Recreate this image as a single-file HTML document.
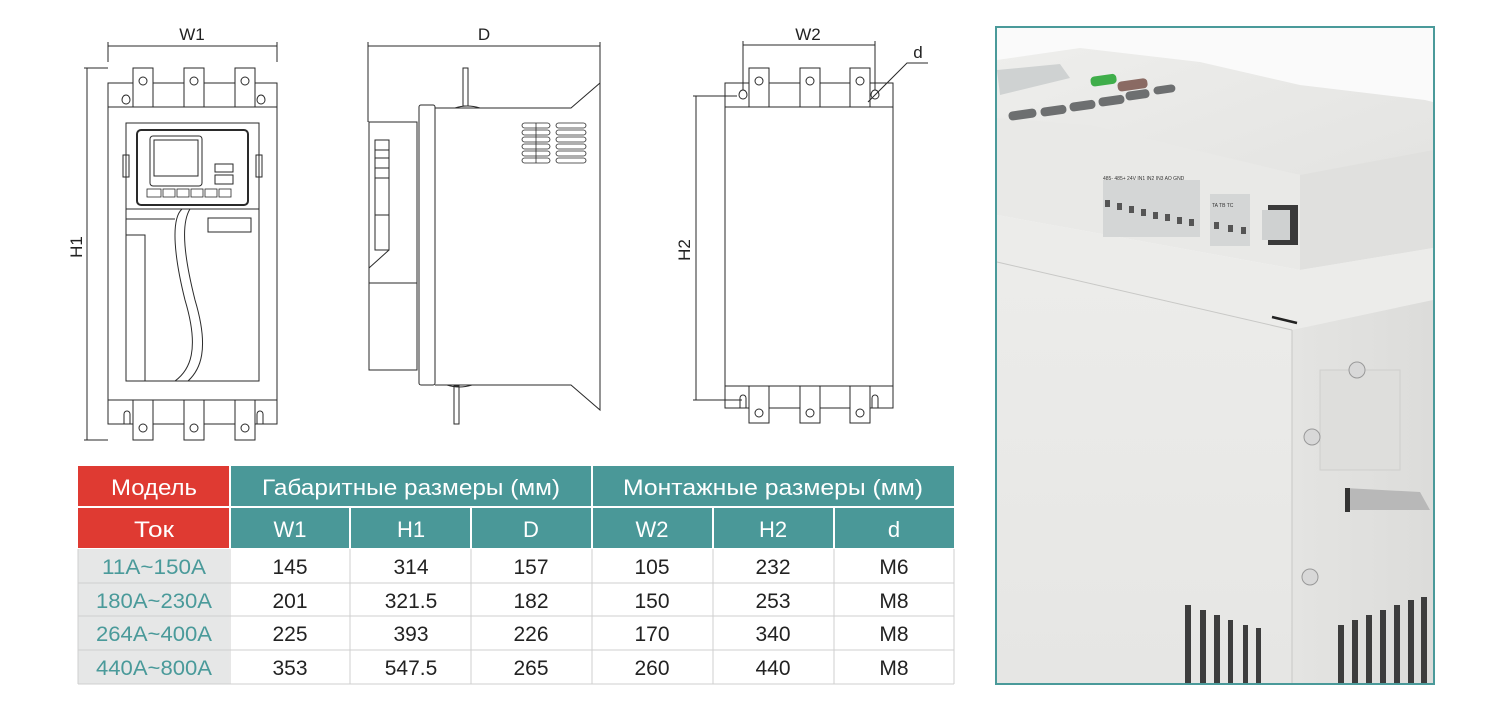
<!DOCTYPE html>
<html><head><meta charset="utf-8"><style>
html,body{margin:0;padding:0;background:#fff;}
svg{display:block}
</style></head><body>
<svg width="1504" height="708" viewBox="0 0 1504 708" xmlns="http://www.w3.org/2000/svg" font-family="Liberation Sans, sans-serif">
<defs>
<linearGradient id="top" x1="0" y1="0" x2="1" y2="1"><stop offset="0" stop-color="#eeeeec"/><stop offset="1" stop-color="#e2e2e0"/></linearGradient>
<linearGradient id="front" x1="0" y1="0" x2="0" y2="1"><stop offset="0" stop-color="#ececea"/><stop offset="1" stop-color="#e6e6e4"/></linearGradient>
<linearGradient id="side" x1="0" y1="0" x2="1" y2="0"><stop offset="0" stop-color="#e4e4e2"/><stop offset="1" stop-color="#dcdcda"/></linearGradient>
</defs>
<g fill="none" stroke="#2a2a2a" stroke-width="1">
<!-- FRONT VIEW -->
<line x1="108" y1="46" x2="277" y2="46"/><line x1="108" y1="42" x2="108" y2="62"/><line x1="277" y1="42" x2="277" y2="62"/>
<line x1="87" y1="68" x2="87" y2="440"/><line x1="84" y1="68" x2="108" y2="68"/><line x1="84" y1="440" x2="108" y2="440"/>
<rect x="108" y="83" width="169" height="24"/>
<rect x="108" y="107" width="169" height="293"/>
<rect x="108" y="400" width="169" height="24"/>
<g fill="#fff">
<rect x="133" y="68" width="20" height="39"/><rect x="184" y="68" width="20" height="39"/><rect x="235" y="68" width="20" height="39"/>
<rect x="133" y="400" width="20" height="40"/><rect x="184" y="400" width="20" height="40"/><rect x="235" y="400" width="20" height="40"/>
</g>
<circle cx="143" cy="81" r="4"/><circle cx="194" cy="81" r="4"/><circle cx="245" cy="81" r="4"/>
<circle cx="143" cy="428" r="4"/><circle cx="194" cy="428" r="4"/><circle cx="245" cy="428" r="4"/>
<path d="M122 100 a4 5 0 1 1 8 0 a4 4 0 0 1 -8 0z"/><path d="M257 100 a4 5 0 1 1 8 0 a4 4 0 0 1 -8 0z"/>
<path d="M124 424 v-10 a3 3 0 0 1 6 0 v10"/><path d="M257 424 v-10 a3 3 0 0 1 6 0 v10"/>
<rect x="126" y="123" width="133" height="258"/>
<rect x="137" y="130" width="111" height="75" rx="4" stroke-width="2"/>
<rect x="150" y="136" width="52" height="50" rx="3"/><rect x="154" y="140" width="44" height="36"/>
<rect x="123" y="155" width="6" height="22"/><rect x="256" y="155" width="6" height="22"/>
<rect x="215" y="164" width="18" height="8"/><rect x="215" y="175" width="18" height="9"/>
<g stroke-width="0.8"><rect x="147" y="189" width="14" height="8"/><rect x="163" y="189" width="12" height="8"/><rect x="177" y="189" width="12" height="8"/><rect x="191" y="189" width="12" height="8"/><rect x="205" y="189" width="12" height="8"/><rect x="219" y="189" width="12" height="8"/></g>
<line x1="126" y1="209" x2="259" y2="209"/>
<path d="M126 219 H175 M126 235 H145 V381 M182 209 C170 220 175 260 185 300 C200 350 190 370 175 381 M190 209 C180 225 185 260 195 300 C210 350 200 370 188 381"/>
<rect x="208" y="218" width="43" height="14"/>
<!-- SIDE VIEW -->
<line x1="368" y1="46" x2="600" y2="46"/><line x1="368" y1="42" x2="368" y2="122"/><line x1="600" y1="42" x2="600" y2="108"/>
<rect x="369" y="122" width="48" height="248"/>
<line x1="369" y1="283" x2="417" y2="283"/>
<rect x="375" y="140" width="14" height="110"/><path d="M375 150h14M375 158h14M375 168h14M375 178h14M375 215h14"/>
<path d="M369 268 L389 250"/>
<rect x="419" y="105" width="16" height="280" rx="2"/>
<path d="M435 108 H571 L600 83 V410 L571 385 H435"/>
<rect x="463" y="68" width="5" height="38"/><rect x="454" y="386" width="5" height="38"/>
<path d="M455 108 q12 -4 25 0 M447 385 q12 4 25 0"/>
<g stroke-width="0.8">
<rect x="522" y="123" width="28" height="5" rx="2.5"/><rect x="522" y="130" width="28" height="5" rx="2.5"/><rect x="522" y="137" width="28" height="5" rx="2.5"/><rect x="522" y="144" width="28" height="5" rx="2.5"/><rect x="522" y="151" width="28" height="5" rx="2.5"/><rect x="522" y="158" width="28" height="5" rx="2.5"/>
<rect x="556" y="123" width="30" height="5" rx="2.5"/><rect x="556" y="130" width="30" height="5" rx="2.5"/><rect x="556" y="137" width="30" height="5" rx="2.5"/><rect x="556" y="144" width="30" height="5" rx="2.5"/><rect x="556" y="151" width="30" height="5" rx="2.5"/><rect x="556" y="158" width="30" height="5" rx="2.5"/>
<line x1="536" y1="123" x2="536" y2="163"/></g>
<!-- MOUNTING VIEW -->
<line x1="743" y1="45" x2="875" y2="45"/><line x1="743" y1="41" x2="743" y2="90"/><line x1="875" y1="41" x2="875" y2="90"/>
<line x1="696" y1="96" x2="696" y2="400"/><line x1="693" y1="96" x2="737" y2="96"/><line x1="693" y1="400" x2="742" y2="400"/>
<rect x="725" y="83" width="168" height="24"/>
<rect x="725" y="107" width="168" height="279"/>
<rect x="725" y="386" width="168" height="22"/>
<g fill="#fff">
<rect x="749" y="68" width="20" height="39"/><rect x="800" y="68" width="20" height="39"/><rect x="850" y="68" width="20" height="39"/>
<rect x="749" y="386" width="20" height="37"/><rect x="800" y="386" width="20" height="37"/><rect x="850" y="386" width="20" height="37"/>
</g>
<circle cx="759" cy="81" r="4"/><circle cx="810" cy="81" r="4"/><circle cx="860" cy="81" r="4"/>
<circle cx="759" cy="413" r="4"/><circle cx="810" cy="413" r="4"/><circle cx="860" cy="413" r="4"/>
<path d="M739 95 a4 5 0 1 1 8 0 a4 4 0 0 1 -8 0z"/><path d="M871 95 a4 5 0 1 1 8 0 a4 4 0 0 1 -8 0z"/>
<path d="M740 408 v-10 a3 3 0 0 1 6 0 v10"/><path d="M872 408 v-10 a3 3 0 0 1 6 0 v10"/>
<path d="M868 102 L907 63 H928"/>
</g>
<g fill="#222" font-size="17" text-anchor="middle">
<text x="192" y="40">W1</text><text x="484" y="40">D</text><text x="808" y="40">W2</text><text x="918" y="58">d</text>
<text transform="translate(82,247) rotate(-90)">H1</text>
<text transform="translate(690,250) rotate(-90)">H2</text>
</g>
<!-- TABLE -->
<g>
<rect x="78" y="466" width="151" height="40" fill="#df3a32"/>
<rect x="78" y="508" width="151" height="40" fill="#df3a32"/>
<rect x="231" y="466" width="360" height="40" fill="#4a9898"/>
<rect x="593" y="466" width="361" height="40" fill="#4a9898"/>
<rect x="231" y="508" width="118" height="40" fill="#4a9898"/><rect x="351" y="508" width="119" height="40" fill="#4a9898"/><rect x="472" y="508" width="119" height="40" fill="#4a9898"/>
<rect x="593" y="508" width="119" height="40" fill="#4a9898"/><rect x="714" y="508" width="119" height="40" fill="#4a9898"/><rect x="835" y="508" width="119" height="40" fill="#4a9898"/>
<rect x="78" y="549" width="151" height="135" fill="#e6e7e7"/>
<g stroke="#cfcfcf" stroke-width="1" fill="none">
<path d="M78 583H954M78 616H954M78 650H954M78 684H954M78 549V684M954 549V684M230 549V684M350 549V684M471 549V684M592 549V684M713 549V684M834 549V684"/>
</g>
<g fill="#fff" font-size="22" text-anchor="middle" font-family="Liberation Sans Narrow, Liberation Sans, DejaVu Sans Condensed, sans-serif">
<text x="154" y="495" textLength="86" lengthAdjust="spacingAndGlyphs">Модель</text>
<text x="411" y="495" textLength="298" lengthAdjust="spacingAndGlyphs">Габаритные размеры (мм)</text>
<text x="773" y="495" textLength="300" lengthAdjust="spacingAndGlyphs">Монтажные размеры (мм)</text>
<text x="154" y="537" textLength="40" lengthAdjust="spacingAndGlyphs">Ток</text>
<text x="290" y="537">W1</text><text x="411" y="537">H1</text><text x="531" y="537">D</text>
<text x="652" y="537">W2</text><text x="773" y="537">H2</text><text x="894" y="537">d</text>
</g>
<g font-size="21" text-anchor="middle" font-family="Liberation Sans Narrow, Liberation Sans, DejaVu Sans Condensed, sans-serif">
<g fill="#4a9a9a">
<text x="154" y="574" textLength="104" lengthAdjust="spacingAndGlyphs">11A~150A</text>
<text x="154" y="608" textLength="116" lengthAdjust="spacingAndGlyphs">180A~230A</text>
<text x="154" y="641" textLength="116" lengthAdjust="spacingAndGlyphs">264A~400A</text>
<text x="154" y="675" textLength="116" lengthAdjust="spacingAndGlyphs">440A~800A</text>
</g>
<g fill="#222">
<text x="290" y="574">145</text><text x="411" y="574">314</text><text x="531" y="574">157</text><text x="652" y="574">105</text><text x="773" y="574">232</text><text x="894" y="574">M6</text>
<text x="290" y="608">201</text><text x="411" y="608">321.5</text><text x="531" y="608">182</text><text x="652" y="608">150</text><text x="773" y="608">253</text><text x="894" y="608">M8</text>
<text x="290" y="641">225</text><text x="411" y="641">393</text><text x="531" y="641">226</text><text x="652" y="641">170</text><text x="773" y="641">340</text><text x="894" y="641">M8</text>
<text x="290" y="675">353</text><text x="411" y="675">547.5</text><text x="531" y="675">265</text><text x="652" y="675">260</text><text x="773" y="675">440</text><text x="894" y="675">M8</text>
</g></g>
</g>
<!-- PHOTO -->
<g>
<rect x="996" y="27" width="438" height="657" fill="#fafafa"/>
<!-- top surface of control box -->
<polygon points="997,60 1080,48 1200,62 1300,85 1425,100 1433,102 1433,210 1300,175 997,118" fill="url(#top)"/>
<!-- front face of control box -->
<polygon points="997,118 1090,125 1300,175 1433,210 1433,248 1300,270 997,215" fill="#e9e9e7"/>
<polygon points="1300,175 1433,150 1433,248 1300,270" fill="#e0e0de"/>
<!-- lower body ledge -->
<polygon points="997,215 1300,270 1433,248 1433,300 1300,340 997,262" fill="#ececea"/>
<!-- main front -->
<polygon points="997,262 1292,330 1292,684 997,684" fill="url(#front)"/>
<!-- right side -->
<polygon points="1292,330 1433,300 1433,684 1292,684" fill="url(#side)"/>
<line x1="997" y1="262" x2="1292" y2="330" stroke="#c8c8c6" stroke-width="1"/>
<line x1="1292" y1="330" x2="1292" y2="684" stroke="#c8c8c6"/>
<line x1="1272" y1="317" x2="1297" y2="323" stroke="#222" stroke-width="2.5"/>
<!-- display & buttons -->
<polygon points="997,70 1060,64 1070,78 1000,95" fill="#cfd2d2"/>
<g fill="#6d6f70">
<rect x="1008" y="112" width="28" height="9" rx="4" transform="rotate(-8 1008 112)"/>
<rect x="1040" y="108" width="26" height="9" rx="4" transform="rotate(-8 1040 108)"/>
<rect x="1069" y="103" width="26" height="9" rx="4" transform="rotate(-8 1069 103)"/>
<rect x="1098" y="98" width="26" height="9" rx="4" transform="rotate(-8 1098 98)"/>
<rect x="1125" y="92" width="24" height="9" rx="4" transform="rotate(-8 1125 92)"/>
<rect x="1153" y="87" width="22" height="8" rx="4" transform="rotate(-8 1153 87)"/>
</g>
<rect x="1090" y="77" width="26" height="10" rx="4" fill="#3fae4a" transform="rotate(-8 1090 77)"/>
<rect x="1117" y="82" width="30" height="10" rx="4" fill="#8a6a63" transform="rotate(-8 1117 82)"/>
<!-- terminal blocks -->
<rect x="1103" y="180" width="97" height="57" fill="#d4d6d6"/>
<rect x="1210" y="194" width="40" height="52" fill="#d4d6d6"/>
<g fill="#555">
<rect x="1105" y="200" width="5" height="7"/><rect x="1117" y="203" width="5" height="7"/><rect x="1129" y="206" width="5" height="7"/><rect x="1141" y="209" width="5" height="7"/><rect x="1153" y="212" width="5" height="7"/><rect x="1165" y="214" width="5" height="7"/><rect x="1177" y="217" width="5" height="7"/><rect x="1189" y="219" width="5" height="7"/>
<rect x="1214" y="222" width="5" height="7"/><rect x="1228" y="225" width="5" height="7"/><rect x="1241" y="227" width="5" height="7"/>
</g>
<g font-size="5" fill="#333"><text x="1103" y="180">485- 485+ 24V IN1 IN2 IN3 AO GND</text><text x="1212" y="207">TA TB TC</text></g>
<rect x="1268" y="205" width="30" height="40" fill="#3a3a3a"/><rect x="1262" y="210" width="28" height="30" fill="#cfd1d1"/>
<!-- panel with busbar -->
<rect x="1320" y="370" width="80" height="100" fill="#dededc" stroke="#cfcfcd"/>
<polygon points="1345,488 1420,492 1430,510 1345,510" fill="#b8b8b8"/>
<rect x="1345" y="488" width="5" height="24" fill="#333"/>
<!-- screws -->
<g fill="#d8d8d8" stroke="#999"><circle cx="1357" cy="370" r="8"/><circle cx="1312" cy="437" r="8"/><circle cx="1310" cy="577" r="8"/></g>
<!-- vents -->
<g fill="#3d3d3d">
<rect x="1185" y="605" width="6" height="79"/><rect x="1200" y="610" width="6" height="74"/><rect x="1214" y="615" width="6" height="69"/><rect x="1228" y="620" width="5" height="64"/><rect x="1243" y="625" width="5" height="59"/><rect x="1256" y="628" width="5" height="56"/>
<rect x="1338" y="625" width="6" height="59"/><rect x="1352" y="620" width="6" height="64"/><rect x="1366" y="615" width="6" height="69"/><rect x="1380" y="610" width="6" height="74"/><rect x="1394" y="605" width="6" height="79"/><rect x="1408" y="600" width="6" height="84"/><rect x="1421" y="597" width="6" height="87"/>
</g>
<rect x="996" y="27" width="438" height="657" fill="none" stroke="#4a9a9a" stroke-width="2"/>
</g>
</svg>
</body></html>
